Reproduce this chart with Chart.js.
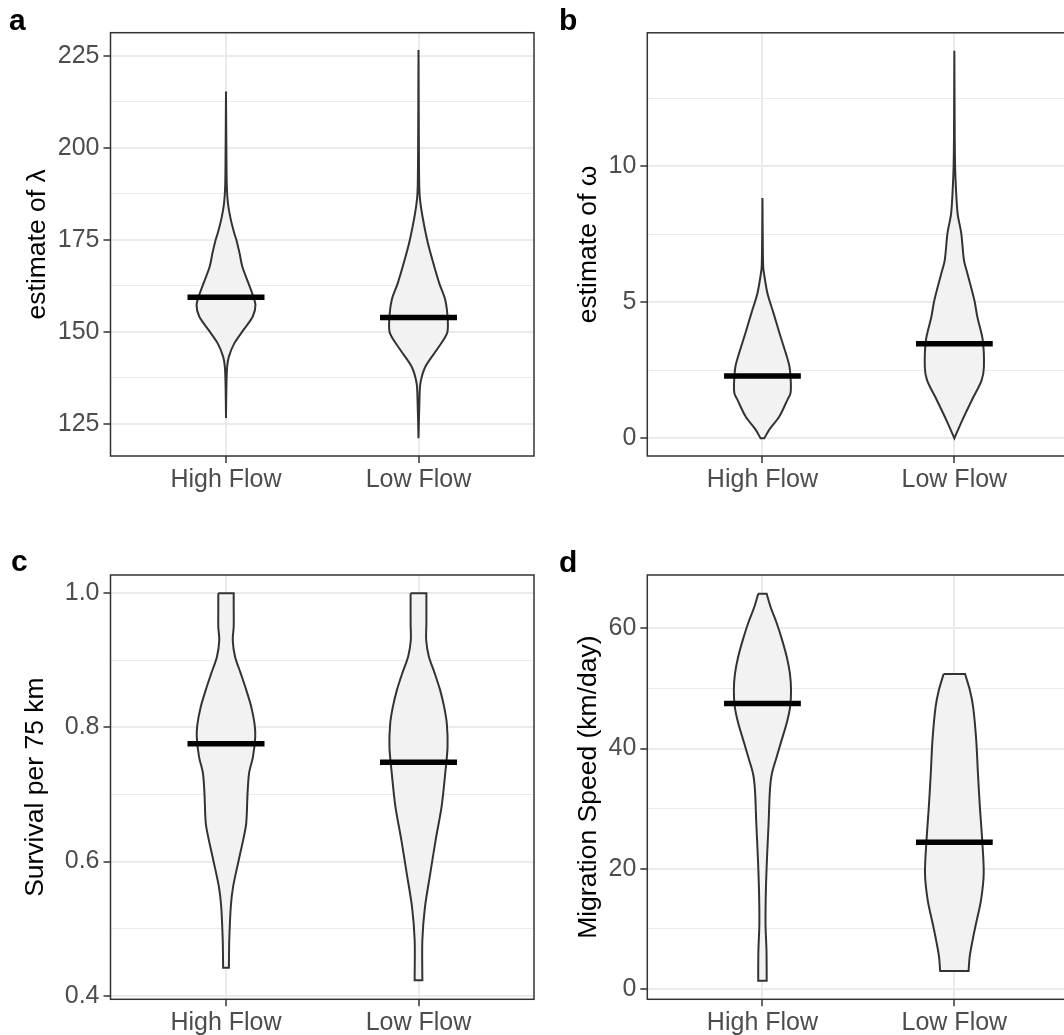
<!DOCTYPE html>
<html>
<head>
<meta charset="utf-8">
<script src="https://cdn.jsdelivr.net/npm/chart.js@4.4.1/dist/chart.umd.min.js"></script>
<style>
  html, body { margin: 0; padding: 0; overflow: hidden; background: #fff; }
  body { width: 1064px; height: 1035px; position: relative; }
  .panel { position: absolute; }
</style>
</head>
<body>
<div class="panel" style="left:0;top:0"><canvas id="pa" width="540" height="520"></canvas></div>
<div class="panel" style="left:540px;top:0"><canvas id="pb" width="540" height="520"></canvas></div>
<div class="panel" style="left:0;top:520px"><canvas id="pc" width="540" height="515"></canvas></div>
<div class="panel" style="left:540px;top:520px"><canvas id="pd" width="540" height="515"></canvas></div>
<script>
var categories = ['High Flow', 'Low Flow'];

// a - estimate of lambda
var lambdaTicks = [125, 150, 175, 200, 225];
var lambdaRange = [116.3, 231.3];
var lambdaHighY = [215.3, 200, 190, 185, 181, 177, 175, 171.5, 167.7, 163.2, 160.5, 157.3, 154.2, 150.5, 146.9, 143.3, 140.6, 135, 126.6];
var lambdaHighW = [0, 0.002, 0.004, 0.010, 0.023, 0.042, 0.054, 0.070, 0.085, 0.117, 0.136, 0.153, 0.139, 0.090, 0.043, 0.015, 0.006, 0.002, 0];
var lambdaLowY = [226.6, 200, 189.5, 185.9, 181.3, 175, 169.6, 163.2, 158.7, 153.3, 149.6, 145.1, 140.6, 136.1, 131.5, 121.1];
var lambdaLowW = [0, 0.002, 0.004, 0.008, 0.021, 0.045, 0.072, 0.108, 0.139, 0.152, 0.148, 0.094, 0.036, 0.010, 0.005, 0];
var lambdaMedians = [159.4, 153.9];

// b - estimate of omega
var omegaTicks = [0, 5, 10];
var omegaRange = [-0.65, 14.9];
var omegaHighY = [8.83, 7, 6.3, 6.06, 5.33, 4.59, 3.86, 3.12, 2.63, 2.02, 1.65, 1.41, 0.79, 0.31, 0];
var omegaHighW = [0, 0.002, 0.004, 0.008, 0.026, 0.058, 0.089, 0.122, 0.141, 0.148, 0.146, 0.130, 0.087, 0.035, 0.010];
var omegaLowY = [14.24, 11, 9.97, 9.23, 8.26, 7.53, 6.55, 6.06, 5.08, 4.46, 3.61, 2.62, 2.13, 1.40, 0.66, 0];
var omegaLowW = [0, 0.002, 0.004, 0.008, 0.017, 0.036, 0.050, 0.068, 0.104, 0.120, 0.148, 0.154, 0.142, 0.091, 0.041, 0];
var omegaMedians = [2.29, 3.47];

// c - survival per 75 km
var survivalTicks = [0.4, 0.6, 0.8, 1.0];
var survivalRange = [0.3946, 1.0273];
var survivalHighY = [1.0, 0.98, 0.95, 0.93, 0.9055, 0.881, 0.856, 0.831, 0.806, 0.786, 0.756, 0.732, 0.702, 0.657, 0.632, 0.602, 0.5625, 0.533, 0.483, 0.4417];
var survivalHighW = [0.040, 0.040, 0.040, 0.035, 0.047, 0.076, 0.105, 0.131, 0.148, 0.152, 0.140, 0.120, 0.112, 0.105, 0.089, 0.066, 0.037, 0.025, 0.017, 0.015];
var survivalLowY = [1.0, 0.955, 0.93, 0.9055, 0.881, 0.856, 0.831, 0.806, 0.771, 0.732, 0.682, 0.632, 0.582, 0.533, 0.483, 0.423];
var survivalLowW = [0.041, 0.041, 0.040, 0.054, 0.084, 0.112, 0.133, 0.147, 0.151, 0.139, 0.120, 0.089, 0.061, 0.034, 0.020, 0.020];
var survivalMedians = [0.7758, 0.748];

// d - migration speed
var speedTicks = [0, 20, 40, 60];
var speedRange = [-1.71, 68.87];
var speedHighY = [65.76, 63.5, 60.8, 58.0, 55.2, 52.5, 49.7, 46.9, 44.2, 41.4, 38.6, 35.8, 33.1, 27.5, 22.0, 16.5, 10.9, 6.5, 3.2, 1.39];
var speedHighW = [0.022, 0.043, 0.075, 0.103, 0.127, 0.143, 0.149, 0.144, 0.126, 0.100, 0.074, 0.049, 0.039, 0.032, 0.024, 0.018, 0.016, 0.021, 0.022, 0.022];
var speedLowY = [52.4, 49.7, 46.9, 41.4, 35.8, 30.3, 24.8, 19.2, 14.8, 10.9, 8.1, 5.4, 3.0];
var speedLowW = [0.056, 0.081, 0.098, 0.114, 0.123, 0.133, 0.145, 0.153, 0.139, 0.113, 0.095, 0.080, 0.074];
var speedMedians = [47.5, 24.4];

var FONT = "'Liberation Sans', Arial, Helvetica, sans-serif";

// outline of one violin: down the left side, back up the right side.
// end points are doubled so the flat (trimmed) ends keep sharp corners
function violin(center, ys, ws) {
  var n = ys.length, pts = [];
  function add(x, y) { pts.push({x: x, y: y}); }
  add(center - ws[0], ys[0]);
  for (var i = 0; i < n; i++) add(center - ws[i], ys[i]);
  add(center - ws[n - 1], ys[n - 1]);
  add(center + ws[n - 1], ys[n - 1]);
  for (var j = n - 1; j >= 0; j--) add(center + ws[j], ys[j]);
  add(center + ws[0], ys[0]);
  add(center - ws[0], ys[0]);
  return pts;
}

function panel(id, p) {
  var step = p.ticks[1] - p.ticks[0];
  var allTicks = [];
  for (var v = p.ticks[0] - step / 2; v <= p.ticks[p.ticks.length - 1] + step / 2 + 1e-9; v += step / 2) {
    if (v >= p.range[0] && v <= p.range[1]) allTicks.push(+v.toFixed(6));
  }
  function isMajor(val) {
    return p.ticks.some(function (t) { return Math.abs(t - val) < 1e-6; });
  }

  var datasets = [];
  p.medians.forEach(function (m, i) {
    datasets.push({
      data: [{x: i + 1 - 0.2, y: m}, {x: i + 1 + 0.2, y: m}],
      showLine: true, borderColor: '#000', borderWidth: 5.5, borderCapStyle: 'butt',
      pointRadius: 0, fill: false, order: 0
    });
  });
  p.violins.forEach(function (vl, i) {
    datasets.push({
      data: violin(i + 1, vl[0], vl[1]),
      showLine: true, fill: 'shape', backgroundColor: '#F2F2F2',
      borderColor: '#333333', borderWidth: 2, tension: 0.3,
      pointRadius: 0, order: 1
    });
  });

  var box = p.box;
  var frame = {
    id: 'frame',
    afterDraw: function (chart) {
      var a = chart.chartArea, ctx = chart.ctx;
      ctx.save();
      ctx.strokeStyle = '#333333';
      ctx.lineWidth = 1.5;
      ctx.strokeRect(a.left, a.top, a.right - a.left, a.bottom - a.top);
      ctx.fillStyle = '#000';
      ctx.font = 'bold 30px ' + FONT;
      ctx.textBaseline = 'alphabetic';
      ctx.fillText(p.letter, p.letterPos[0], p.letterPos[1]);
      ctx.restore();
    }
  };

  new Chart(document.getElementById(id), {
    type: 'scatter',
    data: {datasets: datasets},
    plugins: [frame],
    options: {
      responsive: false,
      animation: false,
      layout: {padding: {left: 0, top: box.top, right: box.w - box.right, bottom: 0}},
      plugins: {legend: {display: false}, tooltip: {enabled: false}},
      scales: {
        x: {
          type: 'linear', min: 0.4, max: 2.6,
          afterBuildTicks: function (ax) { ax.ticks = [{value: 1}, {value: 2}]; },
          afterFit: function (ax) { ax.height = box.h - box.bottom; },
          border: {display: false},
          grid: {color: '#EBEBEB', lineWidth: 2, tickColor: '#333333', tickLength: 7, tickWidth: 1.5},
          ticks: {
            autoSkip: false, maxRotation: 0, padding: 2, color: '#4D4D4D',
            font: {family: FONT, size: 25},
            callback: function (val) { return categories[Math.round(val) - 1]; }
          }
        },
        y: {
          type: 'linear', min: p.range[0], max: p.range[1],
          afterBuildTicks: function (ax) { ax.ticks = allTicks.map(function (t) { return {value: t}; }); },
          afterFit: function (ax) { ax.width = box.left; },
          border: {display: false},
          grid: {
            color: '#EBEBEB',
            lineWidth: function (c) { return c.tick && isMajor(c.tick.value) ? 2 : 1.1; },
            tickColor: function (c) { return c.tick && isMajor(c.tick.value) ? '#333333' : 'rgba(0,0,0,0)'; },
            tickLength: 7, tickWidth: 1.5
          },
          title: {
            display: true, text: p.title, color: '#000',
            font: {family: FONT, size: 26.5}, padding: {top: p.titlePad, bottom: 0}
          },
          ticks: {
            autoSkip: false, padding: 4, color: '#4D4D4D',
            font: {family: FONT, size: 25},
            callback: function (val) { return isMajor(val) ? val.toFixed(p.digits) : ''; }
          }
        }
      }
    }
  });
}

panel('pa', {
  letter: 'a', letterPos: [9, 30], title: 'estimate of \u03bb', titlePad: 22,
  ticks: lambdaTicks, range: lambdaRange, digits: 0,
  violins: [[lambdaHighY, lambdaHighW], [lambdaLowY, lambdaLowW]], medians: lambdaMedians,
  box: {w: 540, h: 520, left: 110.5, top: 32.7, right: 534, bottom: 456}
});
panel('pb', {
  letter: 'b', letterPos: [19, 30], title: 'estimate of \u03c9', titlePad: 33,
  ticks: omegaTicks, range: omegaRange, digits: 0,
  violins: [[omegaHighY, omegaHighW], [omegaLowY, omegaLowW]], medians: omegaMedians,
  box: {w: 540, h: 520, left: 107.3, top: 32.8, right: 529.5, bottom: 456}
});
panel('pc', {
  letter: 'c', letterPos: [11, 51], title: 'Survival per 75 km', titlePad: 20,
  ticks: survivalTicks, range: survivalRange, digits: 1,
  violins: [[survivalHighY, survivalHighW], [survivalLowY, survivalLowW]], medians: survivalMedians,
  box: {w: 540, h: 515, left: 110.5, top: 55, right: 534, bottom: 479.3}
});
panel('pd', {
  letter: 'd', letterPos: [19, 52], title: 'Migration Speed (km/day)', titlePad: 33,
  ticks: speedTicks, range: speedRange, digits: 0,
  violins: [[speedHighY, speedHighW], [speedLowY, speedLowW]], medians: speedMedians,
  box: {w: 540, h: 515, left: 107.3, top: 55, right: 529.5, bottom: 479.3}
});
</script>
</body>
</html>
